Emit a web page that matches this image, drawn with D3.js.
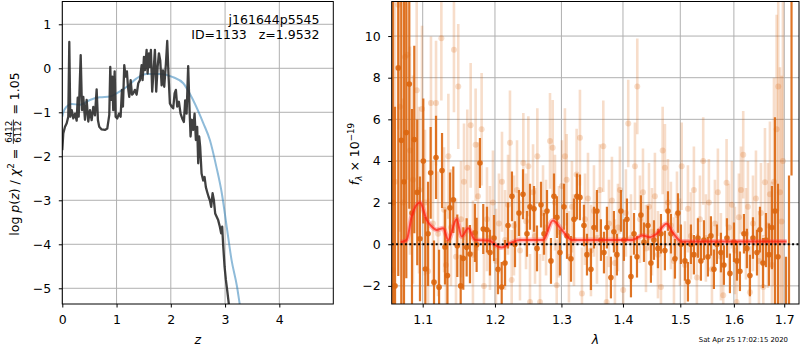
<!DOCTYPE html>
<html>
<head>
<meta charset="utf-8">
<script src="https://cdn.jsdelivr.net/npm/d3@7"></script>
<style>
  body { margin: 0; background: #fff; }
  svg { font-family: "DejaVu Sans", sans-serif; }
</style>
</head>
<body>
<div id="chart"></div>
<script>
// ---- p(z) panel data ----
const pzZ = [0, 0.018, 0.05, 0.081, 0.11, 0.129, 0.147, 0.173, 0.203, 0.234, 0.265, 0.284, 0.302, 0.339, 0.363, 0.387, 0.418, 0.449, 0.479, 0.51,
  0.541, 0.571, 0.602, 0.633, 0.657, 0.681, 0.725, 0.786, 0.829, 0.866, 0.884, 0.902, 0.921, 0.939, 0.965, 0.983, 1.013, 1.044, 1.075, 1.099,
  1.118, 1.142, 1.167, 1.191, 1.21, 1.234, 1.26, 1.284, 1.308, 1.339, 1.37, 1.40, 1.431, 1.462, 1.48, 1.505, 1.523, 1.554, 1.572, 1.597,
  1.615, 1.633, 1.657, 1.683, 1.707, 1.731, 1.757, 1.781, 1.805, 1.831, 1.855, 1.879, 1.91, 1.934, 1.959, 1.983, 2.015, 2.044, 2.07, 2.094,
  2.118, 2.149, 2.18, 2.21, 2.241, 2.265, 2.291, 2.32, 2.346, 2.364, 2.389, 2.412, 2.438, 2.462, 2.486, 2.505, 2.523, 2.541, 2.567, 2.597,
  2.622, 2.646, 2.67, 2.696, 2.72, 2.744, 2.77, 2.794, 2.818, 2.843, 2.873, 2.904, 2.928, 2.947, 2.965, 2.991, 3.015, 3.039, 3.07, 3.1];
const pzLog = [-1.86, -1.48, -1.33, -1.25, -1.10, 0.60, -1.10, -0.95, -1.14, -1.03, -1.19, -0.67, -1.10, 0.30, -0.95, -0.65, -1.17, -0.72, -1.21, -0.95,
  -1.18, -0.88, -1.07, -0.48, -1.18, -1.33, -1.39, -1.40, -1.37, -1.06, 0.03, -0.72, -0.19, -0.95, -0.07, -1.10, -1.14, -1.03, -1.10, -0.49,
  -0.87, 0.07, -0.19, -0.07, -0.42, -0.65, -0.27, -0.60, -0.57, -0.49, -0.60, -0.34, -0.27, 0.07, -0.27, 0.26, -0.04, 0.42, -0.12, 0.34,
  0.03, 0.42, -0.53, -0.05, 0.42, -0.53, 0.03, 0.34, 0.18, -0.39, -0.05, -0.42, 0.11, 0.62, -0.19, -0.80, -0.87, -0.91, -0.57, -0.49,
  -0.87, -0.76, -1.03, -1.14, -1.22, -0.73, -1.03, 0.05, -0.95, -1.55, -1.17, -1.40, -1.03, -1.63, -1.33, -2.16, -1.55, -1.78, -2.39, -2.55,
  -2.47, -2.70, -2.81, -2.92, -3.0, -3.15, -2.84, -3.0, -3.3, -3.37, -3.45, -3.6, -3.75, -3.6, -4.02, -4.51, -4.81, -5.04, -5.36, -5.8];
const priorZ = [0, 0.02, 0.08, 0.17, 0.33, 0.51, 0.69, 0.88, 1.0, 1.19, 1.37, 1.55, 1.80, 2.04, 2.23, 2.41, 2.6, 2.72, 2.84, 2.94, 3.03, 3.12, 3.22, 3.27, 3.35];
const priorLog = [-1.1, -1.0, -0.87, -0.81, -0.83, -0.72, -0.66, -0.64, -0.57, -0.42, -0.23, -0.13, -0.13, -0.20, -0.34, -0.72, -1.25, -1.63, -2.24, -2.84, -3.6, -4.36, -4.96, -5.36, -6.0];
const zTicks = [0, 1, 2, 3, 4];
const logTicks = [-5, -4, -3, -2, -1, 0, 1];

// ---- spectrum panel data (flux in 1e-19) ----
const darkWave = [1.0614, 1.0639, 1.0681, 1.0720, 1.0755, 1.0785, 1.0824, 1.0859, 1.0889, 1.0928,
  1.0964, 1.1008, 1.1035, 1.1071, 1.1106, 1.1151, 1.1178, 1.1219, 1.1259, 1.1299,
  1.1333, 1.1367, 1.1413, 1.1468, 1.1515, 1.1551, 1.1598, 1.1644, 1.1714, 1.1738,
  1.1785, 1.1832, 1.1885, 1.1928, 1.1986, 1.2044, 1.2098, 1.2146, 1.2190, 1.2248,
  1.2293, 1.2352, 1.2412, 1.2472, 1.2517, 1.2578, 1.2623, 1.2684, 1.2730, 1.2776,
  1.2837, 1.2884, 1.2930, 1.2977, 1.3040, 1.3087, 1.3150, 1.3198, 1.3245, 1.3293,
  1.3357, 1.3406, 1.3470, 1.3519, 1.3568, 1.3633, 1.3683, 1.3732, 1.3798, 1.3848,
  1.3898, 1.3965, 1.4016, 1.4067, 1.4135, 1.4187, 1.4238, 1.4306, 1.4358, 1.4427,
  1.4479, 1.4532, 1.4602, 1.4655, 1.4725, 1.4779, 1.4832, 1.4904, 1.4958, 1.5012,
  1.5084, 1.5139, 1.5193, 1.5248, 1.5322, 1.5377, 1.5433, 1.5508, 1.5564, 1.5620,
  1.5677, 1.5752, 1.5809, 1.5867, 1.5924, 1.6001, 1.6059, 1.6117, 1.6195, 1.6253,
  1.6312, 1.6372, 1.6451, 1.6510, 1.6570, 1.6630, 1.6690, 1.6750, 1.6811, 1.6872,
  1.7036, 1.7098, 1.7150];
const darkFlux = [2.0, -2.0, 8.47, 4.99, 3.0, 5.37, 7.7, 1.5, 5.03, 2.49,
  0.26, 4.0, -1.19, 0.5, 3.43, -1.82, 4.17, -2.06, 3.54, -0.13,
  -1.5, 1.75, 2.14, -0.07, -2.0, -0.68, -0.15, -0.47, 0.55, -0.03,
  3.9, 0.73, 0.7, -0.4, 0.3, -1.2, -2.05, -0.9, 0.9, 2.3,
  0.0, 1.5, 2.4, 0.5, 1.8, 1.7, -0.2, 1.9, 0.5, 1.6,
  -0.8, 2.3, 1.3, -0.4, 1.8, 0.4, -0.7, 1.2, 2.3, 2.25,
  0.9, -0.5, -1.2, 0.8, 1.6, 0.2, -0.4, 0.8, -1.6, 0.6,
  -0.5, 1.6, 0.2, 1.2, -1.55, 0.5, -0.6, 1.4, 0.1, 0.9,
  -0.9, 0.2, -0.2, 0.5, -0.3, 1.6, 0.5, -0.7, 1.5, 0.0,
  -0.8, -1.8, 0.0, -0.5, 0.3, -0.8, 0.2, -0.6, 0.4, -1.2,
  0.0, -0.4, -1.0, 0.3, -1.4, 0.1, -0.8, -1.3, 0.5, -0.2,
  -1.5, 0.3, -0.4, 0.7, -0.9, 0.2, -0.5, 0.8, 1.6, -0.6,
  -6.0, -8.0, 15];
const darkErr = [12, 8.6, 10, 8, 9, 7, 6, 5, 4.5, 3.5,
  3, 3, 2.5, 2.5, 2.2, 2, 2, 1.8, 1.8, 1.8,
  1.7, 1.7, 1.6, 1.5, 1.5, 1.5, 1.4, 1.4, 1.4, 1.3,
  1.2, 1.2, 1.1, 1.1, 1.1, 1.2, 1.2, 1.1, 1.1, 1.2,
  1.1, 1.1, 1.2, 1.1, 1.1, 1.1, 1.1, 1.1, 1.0, 1.0,
  1.1, 1.1, 1.0, 1.1, 1.1, 1.1, 1.1, 1.0, 1.1, 1.1,
  1.0, 1.0, 1.0, 1.0, 1.0, 1.0, 1.0, 1.0, 1.0, 1.0,
  1.0, 1.0, 1.0, 1.0, 1.0, 1.0, 1.0, 0.95, 0.95, 0.95,
  0.95, 0.95, 0.95, 0.95, 0.95, 0.95, 0.95, 0.95, 0.95, 0.95,
  0.95, 0.95, 0.95, 0.95, 0.95, 0.95, 0.95, 0.95, 0.95, 0.95,
  0.95, 0.95, 0.95, 0.95, 0.95, 0.95, 0.95, 0.95, 0.95, 0.95,
  1.0, 1.0, 1.1, 1.1, 1.2, 1.3, 1.5, 2.0, 4.5, 3.5,
  5.4, 11.3, 11.7];

const lightWave = [1.0610, 1.0639, 1.0681, 1.0703, 1.0742, 1.0768, 1.0798, 1.0833, 1.0872, 1.0921,
  1.0951, 1.0991, 1.1031, 1.1071, 1.1110, 1.1137, 1.1178, 1.1205, 1.1250, 1.1286,
  1.1313, 1.1345, 1.1381, 1.1422, 1.1450, 1.1481, 1.1519, 1.1561, 1.1607, 1.1654,
  1.1686, 1.1724, 1.1757, 1.1809, 1.1842, 1.1885, 1.1928, 1.1971, 1.2015, 1.2058,
  1.2102, 1.2146, 1.2190, 1.2219, 1.2244, 1.2278, 1.2323, 1.2367, 1.2417, 1.2457,
  1.2492, 1.2517, 1.2563, 1.2593, 1.2628, 1.2669, 1.2715, 1.2761, 1.2822, 1.2864,
  1.2899, 1.2926, 1.2961, 1.3008, 1.3055, 1.3082, 1.3118, 1.3166, 1.3198, 1.3240,
  1.3293, 1.3325, 1.3374, 1.3422, 1.3470, 1.3519, 1.3568, 1.3617, 1.3672, 1.3727,
  1.3765, 1.3815, 1.3865, 1.3915, 1.3948, 1.4004, 1.4050, 1.4089, 1.4135, 1.4203,
  1.4243, 1.4289, 1.4341, 1.4393, 1.4445, 1.4497, 1.4549, 1.4602, 1.4655, 1.4685,
  1.4725, 1.4779, 1.4832, 1.4886, 1.4940, 1.4994, 1.5025, 1.5084, 1.5139, 1.5193,
  1.5248, 1.5303, 1.5359, 1.5420, 1.5470, 1.5526, 1.5583, 1.5639, 1.5695, 1.5752,
  1.5796, 1.5860, 1.5905, 1.5962, 1.6020, 1.6053, 1.6097, 1.6136, 1.6181, 1.6234,
  1.6273, 1.6312, 1.6372, 1.6431, 1.6490, 1.6530, 1.6577, 1.6610, 1.6670, 1.6710,
  1.6750, 1.6791, 1.6845, 1.6878, 1.6912, 1.6946, 1.6973];
const lightFlux = [-1.24, 3.0, 11.5, 6.6, 2.0, 9.0, 9.1, 4.5, 3.1, 7.4,
  2.6, 6.5, 2.0, -1.3, 6.78, 1.0, 6.78, 0.5, 9.9, 1.66,
  -1.0, 4.23, 0.8, 9.34, -0.6, 7.58, 1.2, 3.0, 3.67, 5.71,
  -0.5, 4.78, 2.3, 5.52, -2.0, 1.2, 0.3, 2.0, -0.8, 1.0,
  3.0, 0.2, 1.9, 4.88, -1.72, 0.9, 2.6, -0.3, 3.9, 1.1,
  3.75, -2.77, 2.5, 0.4, 4.23, -2.77, 1.5, 0.8, 4.96, 4.63,
  2.0, -1.97, 0.6, 2.8, 4.23, 3.1, -0.6, 1.8, 0.2, 3.35,
  5.12, -2.36, 1.2, 2.2, -0.3, 1.6, 0.3, 2.6, 4.71, -2.77,
  1.0, 2.1, -0.9, 0.8, 2.6, -2.2, 1.5, 5.8, 0.3, 3.75,
  7.58, 1.2, 2.5, -0.2, 1.8, 0.6, 2.3, -0.5, -2.05, 4.5,
  3.67, 2.0, 0.9, -0.8, 1.4, 0.1, 3.75, -1.0, 1.7, 0.4,
  2.6, -1.6, 1.2, 4.0, 0.3, 2.0, -1.2, 1.0, 2.5, -0.6,
  -2.45, 2.95, 0.8, 1.9, -0.3, -2.77, 1.3, 2.6, 4.3, 0.5,
  1.8, -2.3, 1.0, 2.2, -0.8, 1.5, -2.05, 2.98, 0.9, 2.4,
  -1.0, 3.0, 5.52, 7.58, 2.5, 1.09, 4.0];
const lightErr = [5, 9, 6, 6, 5, 7, 6, 5, 5, 5,
  4, 4, 3.5, 3.5, 3.2, 3, 3, 3, 3, 3,
  3, 3, 2.8, 3, 2.8, 3, 2.8, 2.8, 2.8, 3,
  2.6, 2.7, 2.6, 2.7, 2.6, 2.5, 2.5, 2.5, 2.5, 2.4,
  2.4, 2.4, 2.4, 2.5, 2.4, 2.4, 2.4, 2.4, 2.4, 2.3,
  2.4, 2.3, 2.3, 2.3, 2.3, 2.3, 2.3, 2.3, 2.3, 2.3,
  2.3, 2.2, 2.2, 2.2, 2.3, 2.2, 2.2, 2.2, 2.2, 2.2,
  2.3, 2.2, 2.2, 2.2, 2.2, 2.2, 2.2, 2.2, 2.2, 2.2,
  2.1, 2.1, 2.1, 2.1, 2.1, 2.1, 2.1, 2.1, 2.1, 2.1,
  2.3, 2.1, 2.1, 2.1, 2.1, 2.1, 2.1, 2.1, 2.1, 2.1,
  2.1, 2.1, 2.1, 2.1, 2.1, 2.1, 2.1, 2.1, 2.1, 2.1,
  2.1, 2.1, 2.1, 2.1, 2.1, 2.1, 2.1, 2.1, 2.1, 2.1,
  2.1, 2.1, 2.1, 2.1, 2.1, 2.1, 2.1, 2.1, 2.1, 2.2,
  2.2, 2.2, 2.3, 2.3, 2.4, 2.4, 2.5, 2.6, 3, 3.5,
  4, 5, 5.5, 6, 6, 7, 8];

// best-fit model
const modelWave = [1.0712, 1.0790, 1.0855, 1.0964, 1.1053, 1.1119, 1.1186, 1.1275, 1.1343, 1.1458,
  1.1528, 1.1620, 1.1714, 1.1928, 1.2001, 1.2098, 1.2219, 1.2367, 1.2720, 1.2865,
  1.3005, 1.3165, 1.4163, 1.4335, 1.4462, 1.4579, 1.4754, 1.4872, 1.5025, 1.7050];
const modelFlux = [0.10, 0.21, 1.33, 2.0, 1.17, 0.85, 0.69, 0.77, 0.21, 1.2,
  0.37, 0.77, 0.21, 0.17, -0.03, -0.16, 0.05, 0.21, 0.21, 1.14,
  0.69, 0.21, 0.21, 0.42, 0.34, 0.5, 0.98, 0.53, 0.13, 0.13];
const waveTicks = [1.1, 1.2, 1.3, 1.4, 1.5, 1.6, 1.7];
const fluxTicks = [-2, 0, 2, 4, 6, 8, 10];

// ---- svg ----
const W = 800, H = 350;
const FS = 12.5;
const svg = d3.select("#chart").append("svg")
  .attr("width", W).attr("height", H);

const boxL = {x0: 62.3, x1: 333.3, y0: 1.5, y1: 304};
const boxR = {x0: 391.7, x1: 799, y0: 1.5, y1: 304};

const xz = d3.scaleLinear().domain([0, 4.995]).range([boxL.x0, boxL.x1]);
const yp = d3.scaleLinear().domain([-5.357, 1.518]).range([boxL.y1, boxL.y0]);
const xw = d3.scaleLog().domain([1.0597, 1.7305]).range([boxR.x0, boxR.x1]);
const yf = d3.scaleLinear().domain([-2.87, 11.66]).range([boxR.y1, boxR.y0]);

// clip paths for both panels
const defs = svg.append("defs");
[["clipL", boxL], ["clipR", boxR]].forEach(([id, b]) => {
  defs.append("clipPath").attr("id", id).append("rect")
    .attr("x", b.x0).attr("y", b.y0).attr("width", b.x1 - b.x0).attr("height", b.y1 - b.y0);
});

// grid lines behind everything
function drawGrid(b, x, y, xt, yt) {
  const g = svg.append("g").attr("stroke", "#b0b0b0").attr("stroke-width", 1);
  g.selectAll(".gx").data(xt).join("line")
    .attr("x1", d => x(d)).attr("x2", d => x(d)).attr("y1", b.y0).attr("y2", b.y1);
  g.selectAll(".gy").data(yt).join("line")
    .attr("x1", b.x0).attr("x2", b.x1).attr("y1", d => y(d)).attr("y2", d => y(d));
}
drawGrid(boxL, xz, yp, zTicks, logTicks);
drawGrid(boxR, xw, yf, waveTicks, fluxTicks);

// ---- left panel: p(z) ----
const gL = svg.append("g").attr("clip-path", "url(#clipL)");
const prior = priorZ.map((z, i) => [z, priorLog[i]]);
const pz = pzZ.map((z, i) => [z, pzLog[i]]);

gL.append("path")
  .attr("d", d3.line().x(d => xz(d[0])).y(d => yp(d[1])).curve(d3.curveMonotoneX)(prior))
  .attr("fill", "none").attr("stroke", "#1f77b4").attr("stroke-opacity", 0.5).attr("stroke-width", 2);

gL.append("path")
  .attr("d", d3.line().x(d => xz(d[0])).y(d => yp(d[1]))(pz))
  .attr("fill", "none").attr("stroke", "#2b2b2b").attr("stroke-opacity", 0.9)
  .attr("stroke-width", 2.3).attr("stroke-linejoin", "round");

// ---- right panel: spectrum ----
const gR = svg.append("g").attr("clip-path", "url(#clipR)");
const orange = "#db660e";

function drawSpectrum(wave, flux, err, opts) {
  const pts = wave.map((w, i) => ({w: w, f: flux[i], e: err[i]}));
  const g = gR.append("g");
  g.selectAll("line").data(pts).join("line")
    .attr("x1", d => xw(d.w)).attr("x2", d => xw(d.w))
    .attr("y1", d => yf(d.f - d.e)).attr("y2", d => yf(d.f + d.e))
    .attr("stroke", orange).attr("stroke-width", opts.lw).attr("stroke-opacity", opts.alpha);
  g.selectAll("circle").data(pts).join("circle")
    .attr("cx", d => xw(d.w)).attr("cy", d => yf(d.f)).attr("r", opts.r)
    .attr("fill", orange).attr("fill-opacity", opts.alpha);
}
drawSpectrum(lightWave, lightFlux, lightErr, {lw: 2.6, r: 3, alpha: 0.22});
drawSpectrum(darkWave, darkFlux, darkErr, {lw: 2.2, r: 2.8, alpha: 0.9});

// model on top
const model = modelWave.map((w, i) => [w, modelFlux[i]]);
const modelLine = d3.line().x(d => xw(d[0])).y(d => yf(d[1])).curve(d3.curveMonotoneX);
gR.append("path").attr("d", modelLine(model))
  .attr("fill", "none").attr("stroke", "#ff4040").attr("stroke-opacity", 0.35).attr("stroke-width", 5);
gR.append("path").attr("d", modelLine(model))
  .attr("fill", "none").attr("stroke", "#ff1a0a").attr("stroke-opacity", 0.7).attr("stroke-width", 2);

// zero line
gR.append("line")
  .attr("x1", boxR.x0).attr("x2", boxR.x1).attr("y1", yf(0)).attr("y2", yf(0))
  .attr("stroke", "#000").attr("stroke-width", 2).attr("stroke-dasharray", "2,2.4");

// ---- axes and frames ----
function drawAxes(b, x, y, xt, yt, xFmt, yFmt) {
  const ax = svg.append("g").attr("transform", `translate(0,${b.y1})`)
    .call(d3.axisBottom(x).tickValues(xt).tickFormat(xFmt).tickSize(3.5).tickPadding(7.5));
  const ay = svg.append("g").attr("transform", `translate(${b.x0},0)`)
    .call(d3.axisLeft(y).tickValues(yt).tickFormat(yFmt).tickSize(3.5).tickPadding(7.5));
  [ax, ay].forEach(a => {
    a.select(".domain").remove();
    a.attr("font-size", FS).attr("font-family", "DejaVu Sans");
  });
  svg.append("rect")
    .attr("x", b.x0).attr("y", b.y0).attr("width", b.x1 - b.x0).attr("height", b.y1 - b.y0)
    .attr("fill", "none").attr("stroke", "#000").attr("stroke-width", 1);
}
drawAxes(boxL, xz, yp, zTicks, logTicks, d3.format("d"), d3.format("d"));
drawAxes(boxR, xw, yf, waveTicks, fluxTicks, d3.format(".1f"), d3.format("d"));

// annotation in left panel
svg.append("text").attr("x", 319.5).attr("y", 24).attr("text-anchor", "end")
  .attr("font-size", FS).text("j161644p5545");
svg.append("text").attr("x", 319.5).attr("y", 39).attr("text-anchor", "end")
  .attr("font-size", FS).style("white-space", "pre").text("ID=1133   z=1.9532");

// x labels
svg.append("text").attr("x", (boxL.x0 + boxL.x1) / 2).attr("y", 344)
  .attr("text-anchor", "middle").attr("font-size", FS).attr("font-style", "italic").text("z");
svg.append("text").attr("x", (boxR.x0 + boxR.x1) / 2).attr("y", 344)
  .attr("text-anchor", "middle").attr("font-size", FS).attr("font-style", "italic").text("λ");

// left y label with fraction
(function () {
  const g = svg.append("g").attr("transform", "translate(19,154) rotate(-90)");
  const inner = g.append("g");
  const t = inner.append("text").attr("font-size", FS);
  t.append("tspan").text("log ");
  t.append("tspan").attr("font-style", "italic").text("p");
  t.append("tspan").text("(");
  t.append("tspan").attr("font-style", "italic").text("z");
  t.append("tspan").text(") / ");
  t.append("tspan").attr("font-style", "italic").text("χ");
  t.append("tspan").attr("font-size", 8.75).attr("dy", -5).text("2");
  t.append("tspan").attr("dy", 5).style("white-space", "pre").text(" = ");
  const w1 = t.node().getComputedTextLength() + 1;
  const num = inner.append("text").attr("font-size", 8.75).attr("text-anchor", "middle").text("6412");
  const den = inner.append("text").attr("font-size", 8.75).attr("text-anchor", "middle").text("6112");
  const fw = Math.max(num.node().getComputedTextLength(), den.node().getComputedTextLength()) + 2;
  num.attr("x", w1 + fw / 2).attr("y", -7.3);
  den.attr("x", w1 + fw / 2).attr("y", 1.6);
  inner.append("line").attr("x1", w1).attr("x2", w1 + fw).attr("y1", -5.6).attr("y2", -5.6)
    .attr("stroke", "#000").attr("stroke-width", 0.8);
  const t2 = inner.append("text").attr("x", w1 + fw + 1).attr("font-size", FS)
    .style("white-space", "pre").text(" = 1.05");
  const total = w1 + fw + 1 + t2.node().getComputedTextLength();
  inner.attr("transform", `translate(${-total / 2},0)`);
})();

// right y label
(function () {
  const g = svg.append("g").attr("transform", "translate(358.5,154) rotate(-90)");
  const t = g.append("text").attr("font-size", FS).attr("text-anchor", "middle");
  t.append("tspan").attr("font-style", "italic").text("f");
  t.append("tspan").attr("font-style", "italic").attr("font-size", 8.75).attr("dy", 3).text("λ");
  t.append("tspan").attr("dy", -3).style("white-space", "pre").text(" × 10");
  t.append("tspan").attr("font-size", 8.75).attr("dy", -5).text("−19");
})();

// timestamp
svg.append("text").attr("x", 788).attr("y", 342).attr("text-anchor", "end")
  .attr("font-size", 6.9).text("Sat Apr 25 17:02:15 2020");
</script>
</body>
</html>
